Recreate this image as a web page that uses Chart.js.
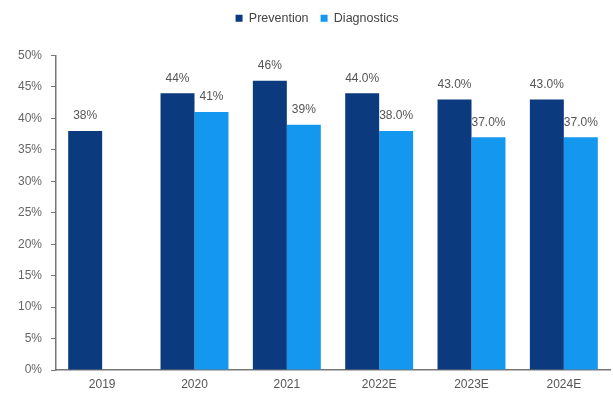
<!DOCTYPE html>
<html>
<head>
<meta charset="utf-8">
<script src="https://cdn.jsdelivr.net/npm/chart.js@4.4.0/dist/chart.umd.min.js"></script>
<style>
  html, body { margin: 0; padding: 0; background: #fff; }
  #myChart { display: block; }
</style>
</head>
<body>
<canvas id="myChart" width="613" height="394"></canvas>
<script>
const years = ['2019', '2020', '2021', '2022E', '2023E', '2024E'];
const prevention = [38, 44, 46, 44, 43, 43];
const diagnostics = [null, 41, 39, 38, 37, 37];
// estimates are printed with one decimal
const labelDecimals = [0, 0, 0, 1, 1, 1];
const yTicks = [0, 5, 10, 15, 20, 25, 30, 35, 40, 45, 50];

const FONT = "'Liberation Sans Narrow', 'Liberation Sans', Arial, sans-serif";

// extra room under the legend, and legend nudged right over the plot
const legendTweak = {
  id: 'legendTweak',
  beforeInit(chart) {
    const legend = chart.legend;
    const fit = legend.fit;
    legend.fit = function () {
      fit.call(this);
      this.height += 21;
    };
    const draw = legend.draw;
    legend.draw = function () {
      const c = this.ctx;
      c.save();
      c.translate(12, 0);
      draw.call(this);
      c.restore();
    };
  }
};

// value labels over each bar
const barLabels = {
  id: 'barLabels',
  afterDatasetsDraw(chart) {
    const ctx = chart.ctx;
    ctx.save();
    ctx.font = '12px ' + FONT;
    ctx.fillStyle = '#555';
    ctx.textAlign = 'center';
    ctx.textBaseline = 'middle';
    chart.data.datasets.forEach((ds, i) => {
      const meta = chart.getDatasetMeta(i);
      meta.data.forEach((bar, j) => {
        const v = ds.data[j];
        if (v === null) return;
        ctx.fillText(v.toFixed(labelDecimals[j]) + '%', bar.x, bar.y - 15);
      });
    });
    ctx.restore();
  }
};

const ctx = document.getElementById('myChart').getContext('2d');
const myChart = new Chart(ctx, {
  type: 'bar',
  data: {
    labels: years,
    datasets: [
      {
        label: 'Prevention',
        data: prevention,
        backgroundColor: '#0b3a7e'
      },
      {
        label: 'Diagnostics',
        data: diagnostics,
        backgroundColor: '#1497ee'
      }
    ]
  },
  options: {
    responsive: false,
    animation: false,
    categoryPercentage: 0.736,
    barPercentage: 1,
    layout: {
      padding: { top: 0, left: 0, right: 3, bottom: 0 }
    },
    plugins: {
      legend: {
        position: 'top',
        labels: {
          boxWidth: 7,
          boxHeight: 7,
          padding: 12,
          color: '#444',
          font: { family: FONT, size: 12.5 }
        }
      },
      tooltip: { enabled: false }
    },
    scales: {
      x: {
        grid: { display: false, drawTicks: false },
        border: { color: '#777', width: 1.5 },
        ticks: {
          color: '#555',
          padding: 7,
          font: { family: FONT, size: 12 }
        },
        afterFit: scale => { scale.height = 24; }
      },
      y: {
        min: 0,
        max: 50,
        afterBuildTicks: scale => {
          scale.ticks = yTicks.map(v => ({ value: v }));
        },
        grid: {
          drawOnChartArea: false,
          drawTicks: true,
          tickLength: 5,
          color: '#777'
        },
        border: { color: '#777', width: 1.5 },
        ticks: {
          color: '#666',
          padding: 9,
          font: { family: FONT, size: 12 },
          callback: v => v + '%'
        },
        afterFit: scale => { scale.width = 56; }
      }
    }
  },
  plugins: [legendTweak, barLabels]
});
</script>
</body>
</html>
